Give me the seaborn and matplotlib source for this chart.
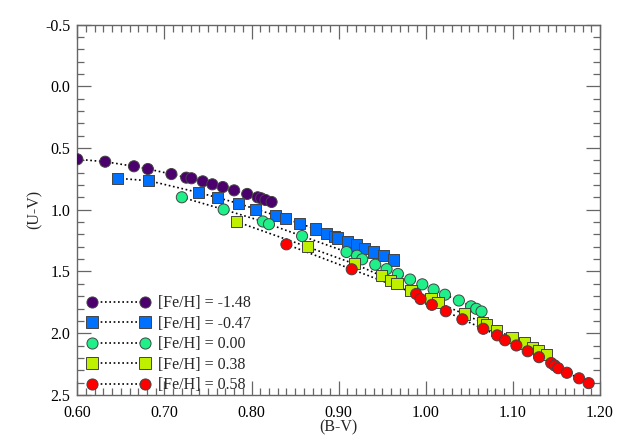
import numpy as np
import pandas as pd
import seaborn as sns
import matplotlib.pyplot as plt
from matplotlib.lines import Line2D
from matplotlib.ticker import MultipleLocator, FormatStrFormatter

# colour-colour data for five metallicities
feh_labels = ["-1.48", "-0.47", "0.00", "0.38", "0.58"]

bv_m148 = [0.600, 0.632, 0.665, 0.681, 0.708, 0.725, 0.731, 0.744, 0.755, 0.767,
           0.780, 0.795, 0.807, 0.811, 0.816, 0.823]
uv_m148 = [0.591, 0.611, 0.648, 0.670, 0.711, 0.740, 0.745, 0.770, 0.794, 0.816,
           0.843, 0.872, 0.899, 0.907, 0.921, 0.937]

bv_m047 = [0.646, 0.682, 0.739, 0.761, 0.785, 0.805, 0.827, 0.839, 0.855, 0.873,
           0.886, 0.895, 0.899, 0.910, 0.920, 0.930, 0.940, 0.951, 0.963]
uv_m047 = [0.745, 0.765, 0.860, 0.902, 0.949, 0.996, 1.044, 1.073, 1.110, 1.156,
           1.191, 1.214, 1.229, 1.255, 1.285, 1.312, 1.342, 1.374, 1.407]

bv_000 = [0.720, 0.768, 0.813, 0.820, 0.858, 0.909, 0.921, 0.927, 0.942, 0.955,
          0.968, 0.982, 0.996, 1.009, 1.022, 1.038, 1.052, 1.058, 1.064]
uv_000 = [0.899, 0.998, 1.095, 1.117, 1.213, 1.342, 1.372, 1.401, 1.445, 1.481,
          1.520, 1.565, 1.604, 1.646, 1.688, 1.735, 1.782, 1.802, 1.824]

bv_038 = [0.783, 0.864, 0.918, 0.949, 0.959, 0.967, 0.983, 1.006, 1.014, 1.044,
          1.065, 1.070, 1.081, 1.099, 1.113, 1.123, 1.129, 1.139]
uv_038 = [1.097, 1.300, 1.438, 1.535, 1.571, 1.599, 1.654, 1.719, 1.753, 1.844,
          1.915, 1.931, 1.975, 2.033, 2.079, 2.117, 2.137, 2.174]

bv_058 = [0.840, 0.915, 0.989, 0.994, 1.007, 1.023, 1.042, 1.066, 1.082, 1.091,
          1.104, 1.117, 1.130, 1.144, 1.148, 1.152, 1.162, 1.176, 1.187]
uv_058 = [1.280, 1.482, 1.682, 1.723, 1.770, 1.822, 1.887, 1.964, 2.017, 2.057,
          2.099, 2.146, 2.194, 2.241, 2.261, 2.283, 2.320, 2.365, 2.404]

colors = ["#4B006E", "#0070FF", "#20F08A", "#BEF000", "#FF0000"]
marks = ["o", "s", "o", "s", "o"]

series = [(bv_m148, uv_m148), (bv_m047, uv_m047), (bv_000, uv_000),
          (bv_038, uv_038), (bv_058, uv_058)]
df = pd.concat([pd.DataFrame({"bv": bv, "uv": uv, "feh": lab})
                for lab, (bv, uv) in zip(feh_labels, series)], ignore_index=True)

sns.set_style("ticks")
plt.rcParams["font.family"] = ["Liberation Serif", "DejaVu Serif"]

fig = plt.figure(figsize=(6.23, 4.45), dpi=100)
ax = fig.add_axes([0.1241, 0.1124, 0.8390, 0.8325])

# dotted connecting lines first, then the symbols on top
sns.lineplot(data=df, x="bv", y="uv", units="feh", estimator=None, sort=False,
             color="black", linewidth=1.2, linestyle=(0, (1, 1.6)), legend=False, ax=ax)
sns.scatterplot(data=df, x="bv", y="uv", hue="feh", style="feh",
                palette=dict(zip(feh_labels, colors)),
                markers=dict(zip(feh_labels, marks)),
                s=64, edgecolor="#444444", linewidth=0.7, legend=False, ax=ax, zorder=3)

ax.set_xlim(0.60, 1.20)
ax.set_ylim(2.5, -0.5)
ax.xaxis.set_major_locator(MultipleLocator(0.1))
ax.xaxis.set_minor_locator(MultipleLocator(0.01))
ax.yaxis.set_major_locator(MultipleLocator(0.5))
ax.yaxis.set_minor_locator(MultipleLocator(0.1))
ax.xaxis.set_major_formatter(FormatStrFormatter("%.2f"))
ax.yaxis.set_major_formatter(FormatStrFormatter("%.1f"))
ax.tick_params(which="both", direction="in", top=True, right=True,
               color="#666666", labelsize=11.5, labelcolor="black")
ax.tick_params(which="major", length=10, width=0.9, pad=7)
ax.tick_params(which="minor", length=5, width=0.9)
ax.tick_params(axis="y", which="major", pad=5)
for sp in ax.spines.values():
    sp.set_color("#666666")
    sp.set_linewidth(1.0)

ax.set_xlabel("(B-V)", fontsize=11.5, labelpad=-1)
ax.set_ylabel("(U-V)", fontsize=11.5, labelpad=2)

handles = [Line2D([0, 1], [0, 0], color="black", linewidth=1.2, linestyle=(0, (1, 1.6)),
                  marker=m, markersize=8, markerfacecolor=c,
                  markeredgecolor="#444444", markeredgewidth=0.7)
           for c, m in zip(colors, marks)]
ax.legend(handles, ["[Fe/H] = " + l for l in feh_labels], loc="lower left",
          bbox_to_anchor=(0.016, 0.0), frameon=False, numpoints=2, fontsize=11.5,
          handlelength=3.9, handletextpad=0.5, labelspacing=0.28, borderpad=0.1,
          borderaxespad=0.0)

fig.savefig("out.png", dpi=100)
